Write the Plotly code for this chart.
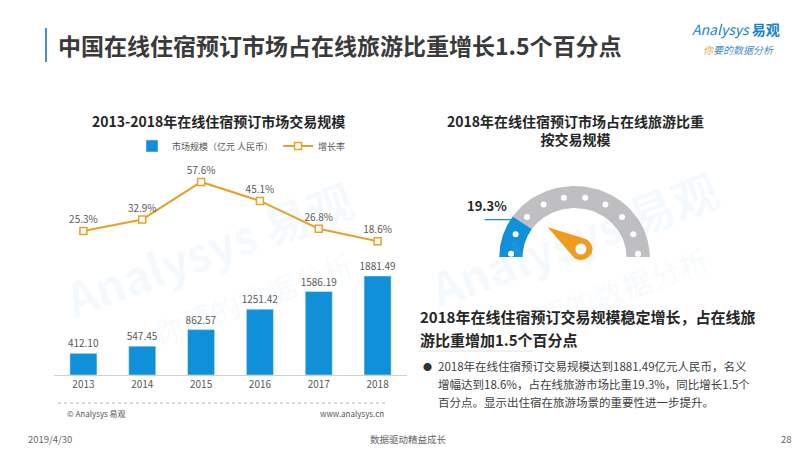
import numpy as np
import plotly.graph_objects as go

# data
years = ['2013', '2014', '2015', '2016', '2017', '2018']
market_size = [412.10, 547.45, 862.57, 1251.42, 1586.19, 1881.49]   # 亿元
growth_rate = [25.3, 32.9, 57.6, 45.1, 26.8, 18.6]                   # %
share_2018 = 19.3                                                    # % of online travel

FONT = "Noto Sans CJK SC, Noto Sans, sans-serif"
BLUE = '#1190DA'
ORANGE = '#E6A228'
GREY_TXT = '#595959'

fig = go.Figure()

# left: bar + line
fig.add_trace(go.Bar(
    x=years, y=market_size, name='市场规模（亿元 人民币）',
    marker_color=BLUE, width=0.46,
    texttemplate='%{y:.2f}', textposition='outside', constraintext='none',
    textfont=dict(size=10, color=GREY_TXT), cliponaxis=False,
    xaxis='x', yaxis='y'))
fig.add_trace(go.Scatter(
    x=years, y=growth_rate, name='增长率', yaxis='y2',
    mode='lines+markers+text',
    line=dict(color=ORANGE, width=2),
    marker=dict(symbol='square', size=7, color='white',
                line=dict(color=ORANGE, width=1.5)),
    texttemplate='%{y:.1f}%', textposition='top center',
    textfont=dict(size=10, color=GREY_TXT), cliponaxis=False))

# right: gauge on its own hidden axes
R_OUT, R_IN = 71, 49
val_ang = 180 - share_2018 * 1.8


def arc(a0, a1, n=80):
    t = np.radians(np.linspace(a0, a1, n))
    xs = np.concatenate([R_OUT * np.cos(t), R_IN * np.cos(t[::-1])])
    ys = np.concatenate([R_OUT * np.sin(t), R_IN * np.sin(t[::-1])])
    return np.append(xs, xs[0]), np.append(ys, ys[0])


gx, gy = arc(val_ang, 0)
fig.add_trace(go.Scatter(x=gx, y=gy, fill='toself', fillcolor='#BFBFC1',
                         line=dict(width=0), mode='lines', hoverinfo='skip',
                         showlegend=False, xaxis='x3', yaxis='y3'))
bx, by = arc(180, val_ang)
fig.add_trace(go.Scatter(x=bx, y=by, fill='toself', fillcolor=BLUE,
                         line=dict(width=0), mode='lines', hoverinfo='skip',
                         showlegend=False, xaxis='x3', yaxis='y3'))

# dots along the band
dot_t = np.radians(np.linspace(177, 3, 10))
r_mid = (R_OUT + R_IN) / 2
fig.add_trace(go.Scatter(x=r_mid * np.cos(dot_t), y=r_mid * np.sin(dot_t),
                         mode='markers', marker=dict(size=6, color='white'),
                         hoverinfo='skip', showlegend=False,
                         xaxis='x3', yaxis='y3'))

# needle (teardrop pointing at the value)
px0, py0, rad, length = 6, 8, 11, 38
phi = np.radians(val_ang)
alpha = np.arccos(rad / length)
back = np.linspace(phi + alpha, phi + 2 * np.pi - alpha, 60)
nx = np.concatenate([[px0 + length * np.cos(phi)], px0 + rad * np.cos(back)])
ny = np.concatenate([[py0 + length * np.sin(phi)], py0 + rad * np.sin(back)])
fig.add_trace(go.Scatter(x=np.append(nx, nx[0]), y=np.append(ny, ny[0]),
                         fill='toself', fillcolor='#F29B17',
                         line=dict(width=0), mode='lines', hoverinfo='skip',
                         showlegend=False, xaxis='x3', yaxis='y3'))
fig.add_trace(go.Scatter(x=[px0], y=[py0], mode='markers',
                         marker=dict(size=11, color='white'),
                         hoverinfo='skip', showlegend=False,
                         xaxis='x3', yaxis='y3'))

# label leader line
ex, ey = R_OUT * np.cos(phi), R_OUT * np.sin(phi)
fig.add_trace(go.Scatter(x=[ex - 44, ex], y=[ey - 3, ey - 3], mode='lines',
                         line=dict(color=BLUE, width=1.2), hoverinfo='skip',
                         showlegend=False, xaxis='x3', yaxis='y3'))

ann = []


def txt(x, y, s, size, color='#404040', anchor='left', bold=False, **kw):
    ann.append(dict(x=x / 800, y=1 - y / 449, xref='paper', yref='paper',
                    text=f'<b>{s}</b>' if bold else s, showarrow=False,
                    xanchor=anchor, yanchor='middle',
                    font=dict(family=FONT, size=size, color=color), **kw))


# faint watermarks
txt(200, 240, 'Analysys 易观', 46, 'rgba(140,195,235,0.09)', 'center',
    bold=True, textangle=-20)
txt(245, 290, '你要的数据分析', 30, 'rgba(140,195,235,0.08)', 'center',
    textangle=-20)
txt(565, 230, 'Analysys 易观', 46, 'rgba(140,195,235,0.09)', 'center',
    bold=True, textangle=-20)
txt(600, 285, '你要的数据分析', 30, 'rgba(140,195,235,0.08)', 'center',
    textangle=-20)

txt(48, 37, '中国在线住宿预订市场占在线旅游比重增长1.5个百分点', 23,
    '#3a3a3a', bold=True)
txt(728, 21, '<i>Analysys</i> <b>易观</b>', 14, '#1583C7', 'center')
txt(730, 41, "<i><span style='color:#F0A030'>你</span>要的数据分析</i>", 10,
    '#4a8fc4', 'center')

txt(210, 113, '2013-2018年在线住宿预订市场交易规模', 14, '#262626', 'center', True)
txt(567, 122, '<b>2018年在线住宿预订市场占在线旅游比重<br>按交易规模</b>', 14,
    '#262626', 'center')

ann.append(dict(x=ex - 24, y=ey + 11, xref='x3', yref='y3', showarrow=False,
                text=f'<b>{share_2018}%</b>', xanchor='center', yanchor='middle',
                font=dict(family=FONT, size=13, color='#262626')))

txt(410, 308, '2018年在线住宿预订交易规模稳定增长，占在线旅', 15, '#262626', bold=True)
txt(410, 331, '游比重增加1.5个百分点', 15, '#262626', bold=True)
txt(413, 358, '●', 9, '#333333')
txt(428, 358, '2018年在线住宿预订交易规模达到1881.49亿元人民币，名义', 11.5)
txt(428, 376, '增幅达到18.6%，占在线旅游市场比重19.3%，同比增长1.5个', 11.5)
txt(428, 394, '百分点。显示出住宿在旅游场景的重要性进一步提升。', 11.5)

txt(57, 405, '© Analysys 易观', 8, '#555555')
txt(310, 405, 'www.analysys.cn', 8, '#555555')
txt(18, 431, '2019/4/30', 9.5, '#666666')
txt(400, 431, '数据驱动精益成长', 9.5, '#666666', 'center')
txt(786, 431, '28', 9.5, '#666666', 'right')

shapes = [
    dict(type='line', xref='paper', yref='paper', x0=38 / 800, x1=38 / 800,
         y0=1 - 20 / 449, y1=1 - 54 / 449, line=dict(color='#4a8fc8', width=2)),
    dict(type='line', xref='paper', yref='paper', x0=50 / 800, x1=378 / 800,
         y0=1 - 395 / 449, y1=1 - 395 / 449,
         line=dict(color='#b5b5b5', width=1, dash='dot')),
    dict(type='line', xref='paper', yref='paper', x0=410 / 800, x1=525 / 800,
         y0=1 - 343 / 449, y1=1 - 343 / 449,
         line=dict(color='#e2e2e2', width=1)),
]

fig.update_layout(
    width=800, height=449,
    margin=dict(l=0, r=0, t=0, b=0),
    paper_bgcolor='white', plot_bgcolor='rgba(0,0,0,0)',
    font=dict(family=FONT, color=GREY_TXT),
    xaxis=dict(domain=[46 / 800, 399 / 800], showgrid=False, ticks='',
               showline=True, linecolor='#d0d0d0', linewidth=1,
               tickfont=dict(size=10, color=GREY_TXT), fixedrange=True),
    yaxis=dict(domain=[1 - 367 / 449, 1 - 160 / 449], range=[0, 3934],
               visible=False, fixedrange=True),
    yaxis2=dict(overlaying='y', range=[-69.6, 66.8], visible=False,
                fixedrange=True),
    xaxis3=dict(domain=[476.5 / 800, 656.5 / 800], range=[-84.9, 84.9],
                visible=False, fixedrange=True),
    yaxis3=dict(anchor='x3', domain=[1 - 262 / 449, 1 - 160 / 449],
                range=[-13, 89], visible=False, fixedrange=True),
    legend=dict(orientation='h', x=124 / 800, y=1 - 138 / 449,
                xanchor='left', yanchor='middle', bgcolor='rgba(0,0,0,0)',
                font=dict(size=9, color=GREY_TXT), itemwidth=30),
    bargap=0.5,
    annotations=ann,
    shapes=shapes,
)

fig.write_html("out.html")
